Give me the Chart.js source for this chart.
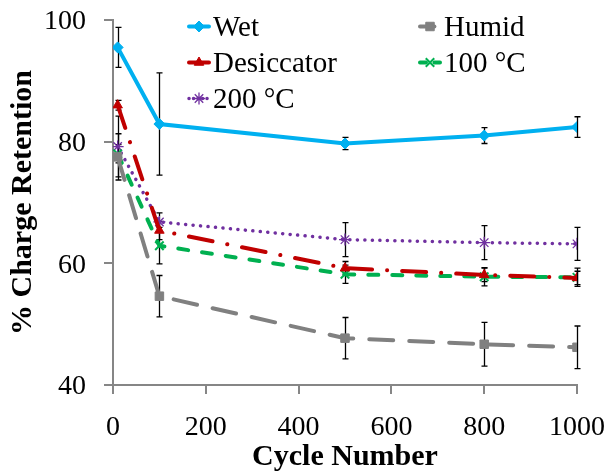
<!DOCTYPE html>
<html>
<head>
<meta charset="utf-8">
<script src="https://cdn.jsdelivr.net/npm/chart.js@4.4.0/dist/chart.umd.min.js"></script>
<style>
  html, body { margin: 0; padding: 0; background: #fff; }
  canvas { display: block; }
</style>
</head>
<body>
<canvas id="retention-chart" width="609" height="471"></canvas>
<script>
// Charge retention vs. cycle number for each storage condition
const cycles = [10, 100, 500, 800, 1000];

const wet = [95.5, 82.9, 79.7, 81.0, 82.4];
const wetErr = [3.3, 8.4, 1.0, 1.3, 1.7];

const humid = [77.5, 54.6, 47.7, 46.7, 46.2];
const humidErr = [3.8, 3.4, 3.4, 3.6, 3.5];

const desiccator = [86.0, 65.4, 59.2, 58.1, 57.6];
const desiccatorErr = [0.8, 1.5, 1.1, 1.1, 1.1];

const heated100 = [78.0, 62.9, 58.2, 57.8, 57.7];
const heated100Err = [1.5, 3.0, 1.5, 1.5, 1.5];

const heated200 = [79.2, 66.8, 63.9, 63.4, 63.2];
const heated200Err = [5.0, 1.5, 2.8, 2.8, 2.7];

const xTicks = [0, 200, 400, 600, 800, 1000];
const yTicks = [40, 60, 80, 100];

const SERIF = '"Liberation Serif", "Times New Roman", Times, serif';
const AXIS_GRAY = '#868686';

function toPoints(values) {
    return cycles.map((c, i) => ({ x: c, y: values[i] }));
}

function makeSeries(label, values, errors, color, style) {
    return {
        label: label,
        data: toPoints(values),
        errors: errors,
        borderColor: color,
        backgroundColor: color,
        borderWidth: style.width,
        borderDash: style.dash,
        borderCapStyle: 'round',
        tension: 0,
        fill: false,
        pointStyle: style.point,
        pointRadius: style.radius,
        pointBackgroundColor: color,
        pointBorderColor: color,
        pointBorderWidth: style.pointBorder
    };
}

const datasets = [
    makeSeries('Wet', wet, wetErr, '#00B0F0',
        { width: 4, dash: [], point: 'rectRot', radius: 5.5, pointBorder: 1 }),
    makeSeries('Humid', humid, humidErr, '#808080',
        { width: 4, dash: [24, 16], point: 'rect', radius: 6, pointBorder: 1 }),
    makeSeries('Desiccator', desiccator, desiccatorErr, '#C00000',
        { width: 4, dash: [24, 15, 0.1, 15], point: 'triangle', radius: 5.5, pointBorder: 1 }),
    makeSeries('100 °C', heated100, heated100Err, '#00B050',
        { width: 4, dash: [10, 14], point: 'crossRot', radius: 6, pointBorder: 2 }),
    makeSeries('200 °C', heated200, heated200Err, '#7030A0',
        { width: 3.5, dash: [0.1, 7.4], point: 'star', radius: 6, pointBorder: 1.3 })
];

// Vertical error bars with small caps, drawn under the markers
const errorBarPlugin = {
    id: 'errorBars',
    beforeDatasetsDraw(chart) {
        const ctx = chart.ctx;
        const xs = chart.scales.x;
        const ys = chart.scales.y;
        ctx.save();
        ctx.strokeStyle = '#000';
        ctx.lineWidth = 1.3;
        chart.data.datasets.forEach(ds => {
            ds.data.forEach((pt, i) => {
                const px = Math.round(xs.getPixelForValue(pt.x)) + 0.5;
                const top = ys.getPixelForValue(pt.y + ds.errors[i]);
                const bottom = ys.getPixelForValue(pt.y - ds.errors[i]);
                ctx.beginPath();
                ctx.moveTo(px, top);
                ctx.lineTo(px, bottom);
                ctx.moveTo(px - 3, top);
                ctx.lineTo(px + 3, top);
                ctx.moveTo(px - 3, bottom);
                ctx.lineTo(px + 3, bottom);
                ctx.stroke();
            });
        });
        ctx.restore();
    }
};

// Two-column legend inside the plot, line sample + marker + name
const insideLegendPlugin = {
    id: 'insideLegend',
    afterDraw(chart) {
        const ctx = chart.ctx;
        const colX = [187, 418];
        const firstBaseline = 36;
        const rowGap = 36;
        ctx.save();
        chart.data.datasets.forEach((ds, i) => {
            const x0 = colX[i % 2];
            const baseline = firstBaseline + Math.floor(i / 2) * rowGap;
            const yMid = baseline - 9.5;

            ctx.save();
            ctx.strokeStyle = ds.borderColor;
            ctx.lineWidth = ds.borderWidth;
            ctx.lineCap = 'round';
            ctx.setLineDash(ds.borderDash.length > 2 ? [] : ds.borderDash.map(v => v * 0.6));
            ctx.beginPath();
            ctx.moveTo(x0 + 2, yMid);
            ctx.lineTo(x0 + 22, yMid);
            ctx.stroke();
            ctx.restore();

            ctx.save();
            ctx.fillStyle = ds.pointBackgroundColor;
            ctx.strokeStyle = ds.pointBorderColor;
            ctx.lineWidth = ds.pointBorderWidth;
            Chart.helpers.drawPoint(ctx, {
                pointStyle: ds.pointStyle,
                radius: ds.pointRadius,
                rotation: 0,
                borderWidth: ds.pointBorderWidth
            }, x0 + 12, yMid);
            ctx.restore();

            ctx.fillStyle = '#000';
            ctx.font = '29px ' + SERIF;
            ctx.textAlign = 'left';
            ctx.textBaseline = 'alphabetic';
            ctx.fillText(ds.label, x0 + 26, baseline);
        });
        ctx.restore();
    }
};

function drawChart() {
    const ctx = document.getElementById('retention-chart').getContext('2d');
    new Chart(ctx, {
        type: 'line',
        data: { datasets: datasets },
        plugins: [errorBarPlugin, insideLegendPlugin],
        options: {
            responsive: false,
            devicePixelRatio: 1,
            animation: false,
            layout: { padding: { top: 20, right: 32, left: 0, bottom: 0 } },
            plugins: {
                legend: { display: false },
                tooltip: { enabled: false }
            },
            scales: {
                x: {
                    type: 'linear',
                    min: 0,
                    max: 1000,
                    afterFit(scale) {
                        scale.height = 86;
                        scale.paddingLeft = 0;
                        scale.paddingRight = 0;
                    },
                    afterBuildTicks(scale) { scale.ticks = xTicks.map(v => ({ value: v })); },
                    grid: {
                        drawOnChartArea: false,
                        drawTicks: true,
                        tickLength: 9,
                        color: AXIS_GRAY,
                        lineWidth: 2
                    },
                    border: { display: true, color: AXIS_GRAY, width: 2 },
                    ticks: {
                        color: '#000',
                        padding: 17,
                        maxRotation: 0,
                        callback: v => String(v),
                        font: { family: SERIF, size: 28 }
                    },
                    title: {
                        display: true,
                        text: 'Cycle Number',
                        color: '#000',
                        font: { family: SERIF, size: 30, weight: 'bold', lineHeight: 0.9 },
                        padding: 0
                    }
                },
                y: {
                    min: 40,
                    max: 100,
                    afterFit(scale) {
                        scale.width = 113;
                        scale.paddingTop = 0;
                        scale.paddingBottom = 0;
                    },
                    afterBuildTicks(scale) { scale.ticks = yTicks.map(v => ({ value: v })); },
                    grid: {
                        drawOnChartArea: false,
                        drawTicks: true,
                        tickLength: 9,
                        color: AXIS_GRAY,
                        lineWidth: 2
                    },
                    border: { display: true, color: AXIS_GRAY, width: 2 },
                    ticks: {
                        color: '#000',
                        padding: 18,
                        labelOffset: 2,
                        callback: v => String(v),
                        font: { family: SERIF, size: 28 }
                    },
                    title: {
                        display: true,
                        text: '% Charge Retention',
                        color: '#000',
                        font: { family: SERIF, size: 30, weight: 'bold', lineHeight: 1.2 },
                        padding: { top: 5, bottom: 0 }
                    }
                }
            }
        }
    });
}

Promise.all([
    document.fonts.load('28px "Liberation Serif"'),
    document.fonts.load('bold 30px "Liberation Serif"')
]).then(drawChart, drawChart);
</script>
</body>
</html>
